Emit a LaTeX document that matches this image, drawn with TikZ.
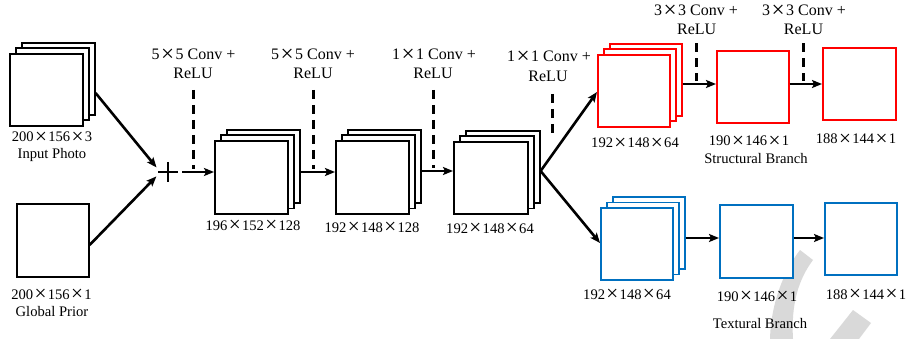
\documentclass[tikz,border=0pt]{standalone}
\usepackage{fontspec}
\setmainfont{Liberation Serif}
\usetikzlibrary{arrows.meta}
\newcommand{\tm}{\makebox[1em]{\raisebox{-0.1em}{\scalebox{1.45}{×}}}}
\definecolor{myred}{RGB}{255,0,0}
\definecolor{myblue}{RGB}{0,112,192}
\definecolor{wmgray}{RGB}{217,217,217}
\tikzset{
  box/.style={draw, line width=1.6pt, fill=white, inner sep=0pt, anchor=north west},
  arr/.style={line width=2.6pt, -{Stealth[length=10pt,width=8pt,inset=2pt]}},
  dsh/.style={line width=3pt, dash pattern=on 9pt off 6pt},
  dim/.style={font=\fontsize{14.6}{17}\selectfont, anchor=base, inner sep=0pt},
  conv/.style={font=\fontsize{16}{19}\selectfont, anchor=base, inner sep=0pt},
  plusnode/.style={minimum size=20pt, inner sep=0pt,
    path picture={\draw[line width=1.3pt] (path picture bounding box.north) -- (path picture bounding box.south)
      (path picture bounding box.west) -- (path picture bounding box.east);}},
}
\newcommand{\bx}[6]{%
  \node[box, draw=#6, minimum width=#4-#2, minimum height=#5-#3] (#1) at (#2,#3) {};}
\newcommand{\stk}[6]{%
  \node[box, draw=#6, minimum width=#4-#2, minimum height=#5-#3] (#1c) at (#2+12,#3-11) {};
  \node[box, draw=#6, minimum width=#4-#2, minimum height=#5-#3] (#1b) at (#2+6,#3-5.5) {};
  \node[box, draw=#6, minimum width=#4-#2, minimum height=#5-#3] (#1) at (#2,#3) {};}
\begin{document}
\begin{tikzpicture}[x=1pt,y=-1pt]
\useasboundingbox (0,0) rectangle (909,339);
% watermark
\fill[wmgray] (800,250) .. controls (786,268) and (771,300) .. (770,339) -- (793,339)
  .. controls (791,305) and (798,280) .. (813,260) -- cycle;
\fill[wmgray] (830,339) -- (853,310) -- (871,323) -- (859,339) -- cycle;
% boxes
\stk{inp}{9}{53}{82}{125}{black}
\bx{gp}{16}{203}{88}{276}{black}
\node[plusnode] (plus) at (168,172) {};
\stk{ba}{214}{140}{287}{213}{black}
\stk{bb}{335}{140}{408}{213}{black}
\stk{bc}{453}{141}{527}{213}{black}
\stk{rs}{597}{54}{669}{126}{myred}
\bx{r2}{716}{50}{788}{122}{myred}
\bx{r3}{822}{47}{895}{119}{myred}
\stk{bs}{600}{207}{672}{279}{myblue}
\bx{t2}{719}{204}{792}{277}{myblue}
\bx{t3}{824}{202}{896}{274}{myblue}
% dimension labels
\node[dim] (l1) at (52,142) {200\tm156\tm3};
\node[dim] (l2) at (52,159) {Input Photo};
\node[dim] (l3) at (51.5,299) {200\tm156\tm1};
\node[dim] (l4) at (52,316) {Global Prior};
\node[dim] (l5) at (253,230) {196\tm152\tm128};
\node[dim] (l6) at (372,232) {192\tm148\tm128};
\node[dim] (l7) at (490,233) {192\tm148\tm64};
\node[dim] (l8) at (635,148) {192\tm148\tm64};
\node[dim] (l9) at (749,146) {190\tm146\tm1};
\node[dim] (l10) at (756,164) {Structural Branch};
\node[dim] (l11) at (856,144) {188\tm144\tm1};
\node[dim] (l12) at (627,299) {192\tm148\tm64};
\node[dim] (l13) at (757,301) {190\tm146\tm1};
\node[dim] (l14) at (760,328) {Textural Branch};
\node[dim] (l15) at (866,299) {188\tm144\tm1};
% conv labels
\node[conv] (c1) at (193.5,60) {5\tm5 Conv +};
\node[conv] (c1r) at (193,79) {ReLU};
\node[conv] (c2) at (313,60) {5\tm5 Conv +};
\node[conv] (c2r) at (313,79) {ReLU};
\node[conv] (c3) at (434,60) {1\tm1 Conv +};
\node[conv] (c3r) at (433,79) {ReLU};
\node[conv] (c4) at (549,61.7) {1\tm1 Conv +};
\node[conv] (c4r) at (548,81.7) {ReLU};
\node[conv] (c5) at (696,16) {3\tm3 Conv +};
\node[conv] (c5r) at (696.7,34.5) {ReLU};
\node[conv] (c6) at (804,16) {3\tm3 Conv +};
\node[conv] (c6r) at (803.5,34.5) {ReLU};
% arrows
\draw[arr, shorten >=2pt] (inpc.east |- 0,93) -- (plus.west |- 0,169);
\draw[arr, shorten >=2pt] (gp.east |- 0,245) -- (plus.west |- 0,175);
\draw[arr, shorten <=4pt] (plus.east) -- (ba.west |- plus);
\draw[arr] (bac.east |- plus) -- (bb.west |- plus);
\draw[arr] (bbc.east |- 0,171) -- (bc.west |- 0,171);
\coordinate (br) at (bcc.east |- 0,171);
\draw[arr] (br) -- (rs.west |- 0,92);
\draw[arr] (br) -- (bs.west |- 0,243);
\draw[arr] (rsc.east |- 0,84) -- (r2.west |- 0,84);
\draw[arr] (r2.east |- 0,84) -- (r3.west |- 0,84);
\draw[arr] (bsc.east |- 0,238) -- (t2.west |- 0,238);
\draw[arr] (t2.east |- 0,238) -- (t3.west |- 0,238);
% dashed conv lines
\draw[dsh] (c1r.base) ++(0,11) -- (c1r.base |- 0,169);
\draw[dsh] (c2r.base) ++(0,11) -- (c2r.base |- 0,169);
\draw[dsh] (c3r.base) ++(0,11) -- (c3r.base |- 0,168);
\draw[dsh] (552,94) -- (552,135);
\draw[dsh] (c5r.base) ++(0,9) -- (c5r.base |- 0,81);
\draw[dsh] (c6r.base) ++(0,9) -- (c6r.base |- 0,81);
\end{tikzpicture}
\end{document}
